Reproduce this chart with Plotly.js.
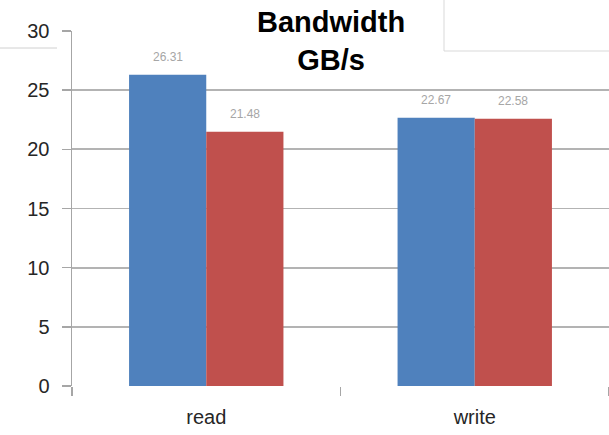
<!DOCTYPE html>
<html>
<head>
<meta charset="utf-8">
<script src="https://cdn.plot.ly/plotly-3.0.1.min.js"></script>
<style>html,body{margin:0;padding:0;background:#fff;}#chart{width:609px;height:435px;}</style>
</head>
<body>
<div id="chart"></div>
<script>
var categories = ["read", "write"];
var seriesA = [26.31, 22.67];
var seriesB = [21.48, 22.58];
var seriesColors = ["#4F81BD", "#C0504D"];
var yTickVals = [0, 5, 10, 15, 20, 25, 30];

var L = 72, R = 0, T = 31, B = 49, W = 609, H = 435;
var pw = W - L - R, ph = H - T - B;
function px(x) { return (x - L) / pw; }
function py(y) { return (H - B - y) / ph; }

var bargap = 0.425;
var barW = (1 - bargap) / 2;

var traces = [
  {type: "bar", x: categories, y: seriesA, marker: {color: seriesColors[0], line: {width: 0}}, hoverinfo: "none"},
  {type: "bar", x: categories, y: seriesB, marker: {color: seriesColors[1], line: {width: 0}}, hoverinfo: "none"}
];

var annotations = [];
[seriesA, seriesB].forEach(function (s, si) {
  s.forEach(function (v, ci) {
    annotations.push({
      xref: "x", yref: "y", x: ci + (si === 0 ? -barW / 2 : barW / 2), y: v,
      text: v.toFixed(2), showarrow: false, yanchor: "bottom", yshift: 9,
      font: {family: "Liberation Sans, Arial, sans-serif", size: 12, color: "#a6a6a6"}
    });
  });
});
annotations.push({
  xref: "paper", yref: "paper", x: px(331), y: py(4), xanchor: "center", yanchor: "top",
  text: "<b>Bandwidth</b><br><b>GB/s</b>", showarrow: false, align: "center",
  font: {family: "Liberation Sans, Arial, sans-serif", size: 29, color: "#000"}
});

var shapes = [
  {type: "rect", xref: "paper", yref: "paper", x0: px(225), x1: px(437), y0: py(76), y1: py(0), fillcolor: "#fff", line: {width: 0}, layer: "above"},
  {type: "line", xref: "paper", yref: "paper", x0: px(0), x1: px(57), y0: py(48), y1: py(48), line: {color: "#d0d0d0", width: 1}, layer: "above"},
  {type: "line", xref: "paper", yref: "paper", x0: px(444), x1: px(444), y0: py(0), y1: py(51), line: {color: "#d9d9d9", width: 1}, layer: "above"},
  {type: "line", xref: "paper", yref: "paper", x0: px(444), x1: px(609), y0: py(51), y1: py(51), line: {color: "#d9d9d9", width: 1}, layer: "above"}
];

var layout = {
  width: W, height: H,
  margin: {l: L, r: R, t: T, b: B, pad: 0},
  paper_bgcolor: "#fff", plot_bgcolor: "#fff",
  showlegend: false,
  barmode: "group", bargap: bargap, bargroupgap: 0,
  font: {family: "Liberation Sans, Arial, sans-serif"},
  xaxis: {
    type: "category", showgrid: false, zeroline: false,
    showline: false, ticks: "outside", tickson: "boundaries", ticklen: 9, tickwidth: 1.5, tickcolor: "#a6a6a6",
    tickfont: {size: 20, color: "#262626"}, ticklabelstandoff: 17
  },
  yaxis: {
    range: [0, 30], tickvals: yTickVals, ticktext: yTickVals.map(String),
    showgrid: true, gridcolor: "#b3b3b3", gridwidth: 1.7, zeroline: false,
    showline: true, linecolor: "#a6a6a6", linewidth: 1.5,
    ticks: "outside", ticklen: 9, tickwidth: 1.5, tickcolor: "#a6a6a6",
    tickfont: {size: 20, color: "#262626"}, ticklabelstandoff: 8
  },
  shapes: shapes,
  annotations: annotations
};

Plotly.newPlot("chart", traces, layout, {staticPlot: true, displayModeBar: false});
</script>
</body>
</html>
